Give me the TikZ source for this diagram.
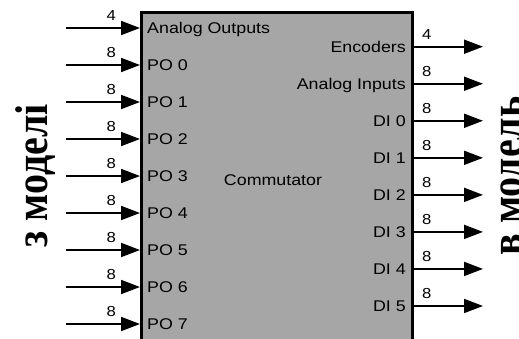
\documentclass[tikz,border=0pt]{standalone}
\usepackage{graphicx}
\usepackage{fontspec}
\setmainfont{Liberation Sans}
\newfontfamily\cyrserif{Liberation Serif}
\usetikzlibrary{arrows.meta}
\definecolor{blockgray}{RGB}{166,166,166}
\newcommand\widetext[1]{\scalebox{1.15}[1]{#1}}
\newcommand\talltext[1]{\scalebox{1}[1.15]{#1}}
\tikzset{
  blk/.style={draw=black, line width=3pt, fill=blockgray, inner sep=0pt, outer sep=0pt},
  sig/.style={line width=1.8pt, -{Triangle[length=19pt,width=14pt]}},
  lab/.style={font=\fontsize{15.5}{16}\selectfont, inner sep=0pt},
  num/.style={font=\fontsize{14.5}{15}\selectfont, inner sep=0pt},
  side/.style={font=\cyrserif\bfseries\fontsize{40}{40}\selectfont, rotate=90, anchor=base, inner sep=0pt}
}
\begin{document}
\begin{tikzpicture}[x=1pt,y=-1pt]
\useasboundingbox (0,0) rectangle (519,338);
\clip (0,0) rectangle (519,338);
\fill[white] (0,0) rectangle (519,338);
% block
\node[blk, anchor=north west, minimum width=271pt, minimum height=345pt] (comm) at (141,12) {};
\node[lab, anchor=base] (title) at (273,185.5) {\widetext{Commutator}};
% inputs
\foreach \t/\n [count=\i from 0] in {Analog Outputs/4, PO 0/8, PO 1/8, PO 2/8, PO 3/8, PO 4/8, PO 5/8, PO 6/8, PO 7/8}{
  \pgfmathsetmacro\yy{28+37*\i}
  \coordinate (is\i) at (66,\yy);
  \coordinate (ie\i) at (140,\yy);
  \draw[sig] (is\i) -- (ie\i);
  \node[lab, anchor=base west] (inl\i) at (147,\yy+5.5) {\widetext{\t}};
  \node[num, anchor=base east] (inn\i) at (116,\yy-7.5) {\widetext{\n}};
}
% outputs
\foreach \t/\n [count=\i from 0] in {Encoders/4, Analog Inputs/8, DI 0/8, DI 1/8, DI 2/8, DI 3/8, DI 4/8, DI 5/8}{
  \pgfmathsetmacro\yy{46.7+37.04*\i}
  \coordinate (os\i) at (412,\yy);
  \coordinate (oe\i) at (483,\yy);
  \draw[sig] (os\i) -- (oe\i);
  \node[lab, anchor=base east] (outl\i) at (406,\yy+5.5) {\widetext{\t}};
  \node[num, anchor=base west] (outn\i) at (422,\yy-7.5) {\widetext{\n}};
}
% side captions
\node[side] (from) at (47,176) {\talltext{з моделі}};
\node[side] (to) at (522,176) {\talltext{в модель}};
\end{tikzpicture}
\end{document}
